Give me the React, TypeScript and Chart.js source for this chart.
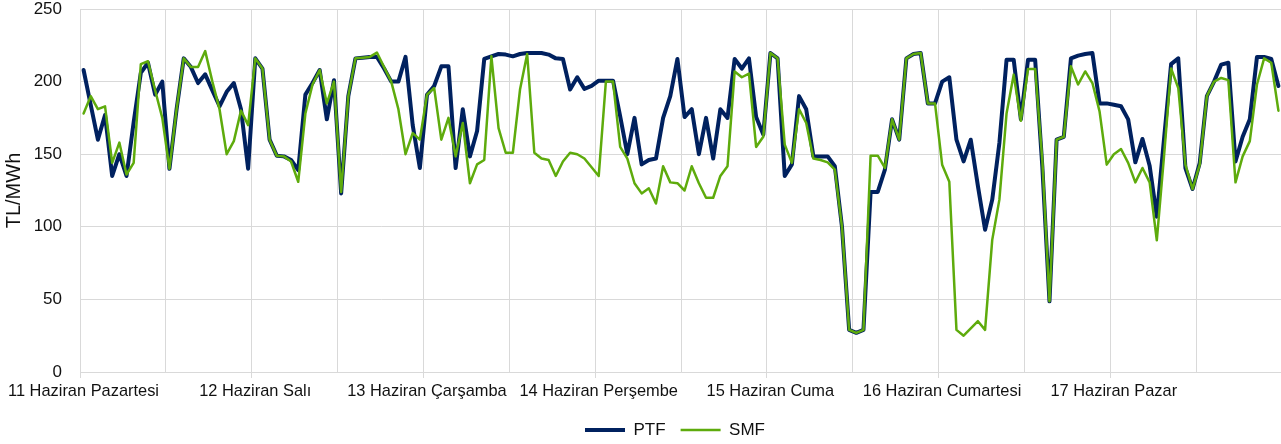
import React, { useEffect, useRef } from 'react';
import { Chart, registerables } from 'chart.js';

Chart.register(...registerables);

const dayLabels = [
  '11 Haziran Pazartesi',
  '12 Haziran Salı',
  '13 Haziran Çarşamba',
  '14 Haziran Perşembe',
  '15 Haziran Cuma',
  '16 Haziran Cumartesi',
  '17 Haziran Pazar',
];

const ptfDay1 = [208, 184, 160, 177, 135, 150, 135, 172, 206, 213, 191, 200, 140, 181, 216, 210, 199, 205, 194, 183, 193, 199, 181, 140];
const ptfDay2 = [216, 209, 160, 149, 148.5, 146, 139, 191, 199, 208, 174, 201, 123, 190, 216, 216.5, 217, 217, 209, 200, 200, 217, 170, 140.5];
const ptfDay3 = [191, 197, 210.5, 210.5, 140.5, 181, 148.5, 166, 215.6, 217.4, 219, 218.6, 217.4, 219, 219.7, 219.7, 219.7, 218.6, 216, 215.6, 194.5, 203, 195, 197];
const ptfDay4 = [200.6, 200.6, 200.6, 176, 150, 175, 143, 146, 147, 175, 190, 215.6, 175.6, 181, 150, 175, 147, 181, 175, 215.6, 209, 216, 175.6, 163.5];
const ptfDay5 = [219.7, 216, 135, 143, 190, 181, 148.5, 148.5, 148.5, 141.7, 100, 29, 27, 29, 124, 124, 139.4, 174, 160, 216, 219, 219.7, 185, 185];
const ptfDay6 = [200, 203, 160, 145, 160, 128, 98, 118.7, 157.7, 215, 215, 174, 215, 215, 141.7, 48.7, 160, 162, 216, 217.9, 219, 219.7, 185, 185];
const ptfDay7 = [184, 183, 174, 144.4, 160.5, 142, 107, 160, 212, 216, 140.5, 126, 144, 190, 200, 211.7, 213, 145, 162, 174, 217, 217, 215.6, 197];

const smfDay1 = [178, 190, 181, 183, 144, 158, 136, 144, 212, 214, 194, 175, 140, 181, 216, 210, 210, 221, 200, 181, 150, 159, 180, 170];
const smfDay2 = [216, 209, 160, 149, 148.5, 145, 131, 178, 198, 208, 185, 200, 124, 190, 216, 216.5, 217, 220, 210, 200, 181, 150, 164.5, 160];
const smfDay3 = [191, 195.6, 160, 175, 148.5, 171.5, 130, 143, 146, 217.4, 168, 151, 151, 194.5, 219, 151, 147, 146, 135, 145, 151, 150, 147, 141];
const smfDay4 = [135, 200, 200, 155, 147, 130, 123, 126.5, 116, 141.7, 130.6, 130, 125, 141.7, 130, 120, 120, 135, 141.7, 207, 203, 205.5, 155, 162];
const smfDay5 = [219.7, 216, 156.6, 144, 181, 171.5, 147, 146, 144.4, 139.4, 100, 29, 27, 29, 149, 149, 140.5, 174, 160, 216, 219, 219.7, 185, 185];
const smfDay6 = [142.8, 131, 29, 25, 30, 35, 29, 91, 118.7, 178, 204.8, 173, 208.7, 208.7, 146, 48.7, 160, 162, 210.5, 198, 207, 199, 179.5, 142.8];
const smfDay7 = [150, 153.6, 144, 130.6, 140.5, 130.6, 90.7, 148, 209, 195.6, 142.8, 126, 142.8, 190, 200, 202.5, 201, 130.6, 148.5, 159, 198, 216, 213, 180];

const ptf = [...ptfDay1, ...ptfDay2, ...ptfDay3, ...ptfDay4, ...ptfDay5, ...ptfDay6, ...ptfDay7];
const smf = [...smfDay1, ...smfDay2, ...smfDay3, ...smfDay4, ...smfDay5, ...smfDay6, ...smfDay7];

const HOURS_PER_DAY = 24;
const Y_MIN = 0;
const Y_MAX = 250;
const Y_STEP = 50;

const PTF_COLOR = '#00215f';
const SMF_COLOR = '#5eab0c';
const GRID_COLOR = '#d9d9d9';
const TEXT_COLOR = '#111111';
const FONT = '"Liberation Sans", Arial, sans-serif';

const LEGEND_PAD = 15;

const legendShift = {
  id: 'legendShift',
  afterLayout(chart: any) {
    const lg = chart.legend;
    if (!lg || !lg.lineWidths) return;
    const start = (lg.left + LEGEND_PAD + lg.right - lg.lineWidths[0]) / 2;
    const dx = 585 - start;
    const dy = 430 - 8.5 - LEGEND_PAD - lg.top;
    lg.left += dx;
    lg.right += dx;
    lg.top += dy;
    lg.bottom += dy;
  },
};

export default function App() {
  const ref = useRef<HTMLCanvasElement>(null);

  useEffect(() => {
    if (!ref.current) return;
    const toPoints = (arr: number[]) => arr.map((v, i) => ({ x: i + 0.5, y: v }));
    const totalHours = dayLabels.length * HOURS_PER_DAY;

    const chart = new Chart(ref.current, {
      type: 'line',
      data: {
        datasets: [
          {
            label: 'PTF',
            data: toPoints(ptf),
            borderColor: PTF_COLOR,
            backgroundColor: PTF_COLOR,
            borderWidth: 4,
            pointRadius: 0,
            tension: 0,
            borderCapStyle: 'round',
            borderJoinStyle: 'round',
            order: 1,
          },
          {
            label: 'SMF',
            data: toPoints(smf),
            borderColor: SMF_COLOR,
            backgroundColor: SMF_COLOR,
            borderWidth: 2.5,
            pointRadius: 0,
            tension: 0,
            borderCapStyle: 'round',
            borderJoinStyle: 'round',
            order: 0,
          },
        ],
      },
      options: {
        responsive: false,
        animation: false,
        devicePixelRatio: 1,
        layout: { padding: { top: 9, left: 0, right: 0, bottom: 0 } },
        font: { family: FONT },
        plugins: {
          tooltip: { enabled: false },
          legend: {
            position: 'bottom',
            labels: {
              usePointStyle: true,
              pointStyle: 'line',
              pointStyleWidth: 40,
              padding: LEGEND_PAD,
              color: TEXT_COLOR,
              font: { family: FONT, size: 17 },
              sort: (a: any, b: any) => a.datasetIndex - b.datasetIndex,
            },
          },
        },
        scales: {
          x: {
            type: 'linear',
            min: 0,
            max: totalHours,
            afterFit: (scale: any) => {
              scale.height = 30;
            },
            border: { color: GRID_COLOR, width: 1 },
            grid: {
              color: GRID_COLOR,
              lineWidth: 1,
              tickLength: 6,
              tickColor: (ctx: any) =>
                ctx.tick && ctx.tick.value % HOURS_PER_DAY === 0 ? GRID_COLOR : 'rgba(0,0,0,0)',
            },
            ticks: {
              stepSize: 12,
              autoSkip: false,
              maxRotation: 0,
              minRotation: 0,
              padding: 4,
              labelOffset: 3.5,
              color: TEXT_COLOR,
              font: { family: FONT, size: 16.4 },
              callback: (value: any) => {
                const v = Number(value);
                if (v % HOURS_PER_DAY !== 0) return '';
                const idx = v / HOURS_PER_DAY;
                return dayLabels[idx] ?? '';
              },
            },
          },
          y: {
            min: Y_MIN,
            max: Y_MAX,
            afterFit: (scale: any) => {
              scale.width = 80;
              scale.paddingTop = 0;
              scale.paddingBottom = 0;
            },
            border: { color: GRID_COLOR, width: 1 },
            grid: { color: GRID_COLOR, lineWidth: 1, drawTicks: false },
            ticks: {
              stepSize: Y_STEP,
              padding: 18,
              color: TEXT_COLOR,
              font: { family: FONT, size: 17 },
            },
            title: {
              display: true,
              text: 'TL/MWh',
              color: TEXT_COLOR,
              font: { family: FONT, size: 20 },
              padding: { top: 2, bottom: 2 },
            },
          },
        },
      },
      plugins: [legendShift],
    } as any);

    return () => chart.destroy();
  }, []);

  return (
    <div
      style={{
        position: 'fixed',
        left: 0,
        top: 0,
        width: 1281,
        height: 444,
        overflow: 'hidden',
        background: '#ffffff',
      }}
    >
      <canvas ref={ref} width={1286} height={444} style={{ display: 'block', width: 1286, height: 444 }} />
    </div>
  );
}
